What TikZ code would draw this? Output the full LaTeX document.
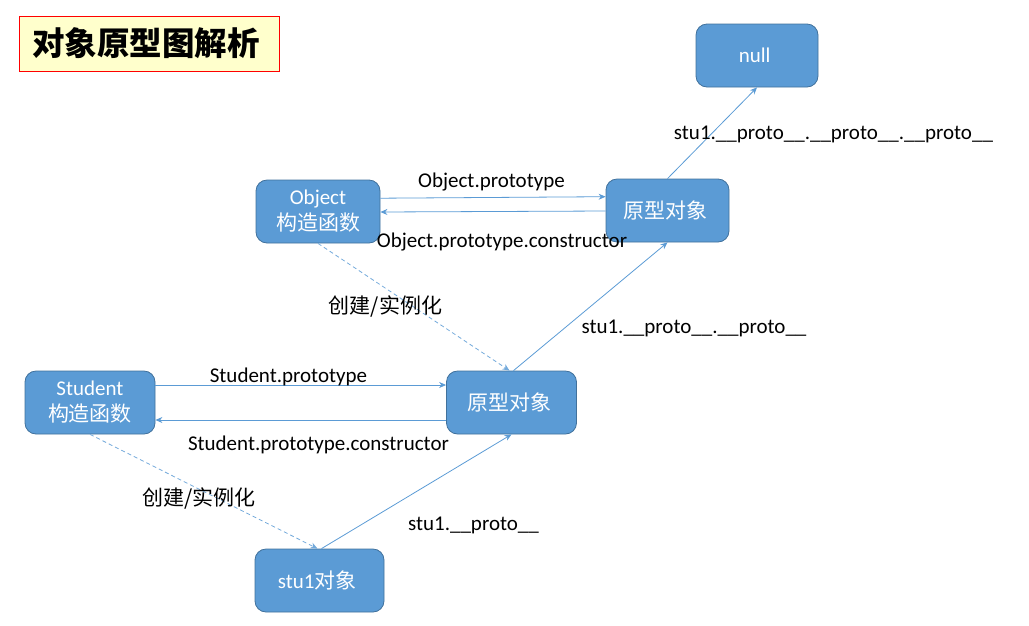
\documentclass[tikz,border=0pt]{standalone}
\usepackage{fontspec}
\setmainfont{Carlito}
\newfontfamily\cjk{Noto Sans CJK SC}
\usetikzlibrary{arrows.meta}
\definecolor{boxblue}{HTML}{5B9BD5}
\definecolor{boxedge}{HTML}{41719C}
\definecolor{titlefill}{HTML}{FFFFCC}
\tikzset{
  objbox/.style={rectangle, rounded corners=11pt, draw=boxedge, fill=boxblue, text=white,
    minimum width=124pt, minimum height=63pt, align=center, line width=0.8pt,
    font=\fontsize{21}{26}\selectfont},
  link/.style={-{Stealth[length=7pt,width=6pt]}, draw=boxblue, line width=0.8pt},
  inst/.style={link, dash pattern=on 4pt off 3pt, draw=boxblue!85},
  lbl/.style={inner sep=0pt, font=\fontsize{21}{26}\selectfont}
}

\begin{document}
\begin{tikzpicture}[x=1pt, y=-1pt]
    \useasboundingbox (0,0) rectangle (1029,625);
    %title
    \node[draw=red, fill=titlefill, line width=0.8pt, minimum width=260pt, minimum height=55pt,
      font=\cjk\bfseries\fontsize{32.5}{36}\selectfont] at (149, 43.5) (title){\hspace*{-6pt}对象原型图解析};
    %boxes
    \node[objbox, minimum width=122pt] at (757, 55.5) (null){ null };
    \node[objbox] at (318, 211.5) (Obj){ Object\\{\cjk 构造函数} };
    \node[objbox, minimum width=123pt] at (667.5, 210.5) (ObjProto){ \cjk 原型对象 };
    \node[objbox, minimum width=130pt] at (90, 402.5) (Stu){ Student\\{\cjk 构造函数} };
    \node[objbox, minimum width=130pt] at (511.5, 402.5) (StuProto){ \cjk 原型对象 };
    \node[objbox, minimum width=129pt] at (319.5, 580.5) (stu1){ stu1{\cjk 对象} };
    %links
    \draw[link] ([yshift=13.3pt]Obj.east) -- ([yshift=13.8pt]ObjProto.west);
    \draw[link] ([yshift=-0.5pt]ObjProto.west) -- ([yshift=-0.5pt]Obj.east);
    \draw[link] (ObjProto.north) -- (null.south);
    \draw[link] ([xshift=2pt]StuProto.north) -- (ObjProto.south);
    \draw[inst] (Obj.south) -- ([xshift=-2pt]StuProto.north);
    \draw[link] ([yshift=17.5pt]Stu.east) -- ([yshift=17.5pt]StuProto.west);
    \draw[link] ([yshift=-17.5pt]StuProto.west) -- ([yshift=-17.5pt]Stu.east);
    \draw[inst] (Stu.south) -- ([xshift=-2pt]stu1.north);
    \draw[link] ([xshift=2pt]stu1.north) -- (StuProto.south);
    %labels
    \node[lbl, anchor=base] at (491.5, 187) (lObjProto){ Object.prototype };
    \node[lbl, anchor=base] at (502, 247) (lObjCons){ Object.prototype.constructor };
    \node[lbl, anchor=base] at (833.5, 139) (lNull){ stu1.\_\_proto\_\_.\_\_proto\_\_.\_\_proto\_\_ };
    \node[lbl, anchor=base] at (694, 333) (lProto2){ stu1.\_\_proto\_\_.\_\_proto\_\_ };
    \node[lbl, font=\cjk\fontsize{21}{26}\selectfont] at (385.5, 306) (lNewObj){ 创建/实例化 };
    \node[lbl, anchor=base] at (288.5, 382.5) (lStuProto){ Student.prototype };
    \node[lbl, anchor=base] at (318.5, 450) (lStuCons){ Student.prototype.constructor };
    \node[lbl, font=\cjk\fontsize{21}{26}\selectfont] at (199, 498) (lNewStu){ 创建/实例化 };
    \node[lbl, anchor=base] at (473.5, 530) (lProto1){ stu1.\_\_proto\_\_ };
\end{tikzpicture}
\end{document}
